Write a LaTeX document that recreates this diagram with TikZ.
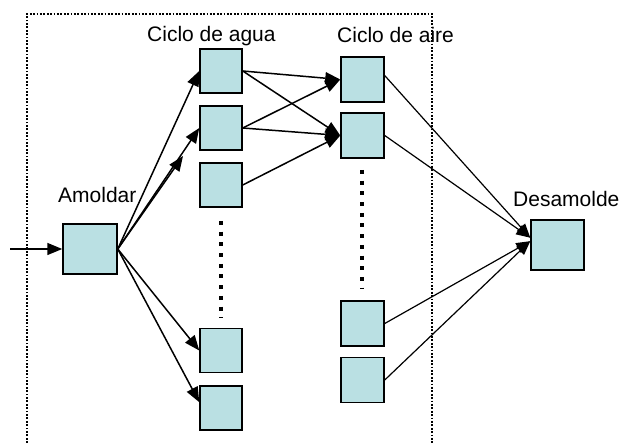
\documentclass[tikz,border=0pt]{standalone}
\usepackage{fontspec}
\setmainfont{Liberation Sans}
\usetikzlibrary{arrows.meta}
\definecolor{boxfill}{RGB}{186,224,227}
\tikzset{
  box/.style={draw=black, line width=1.5pt, fill=boxfill, rectangle, inner sep=0pt},
  wbox/.style={box, minimum width=42pt, minimum height=44pt},
  abox/.style={box, minimum width=43pt, minimum height=45pt},
  bigbox/.style={box, minimum width=54pt, minimum height=50pt},
  lbl/.style={font=\fontsize{21}{25}\selectfont, inner sep=0pt, anchor=base west},
  conn/.style={line width=1.5pt, -{Triangle[length=15pt,width=12pt]}},
  thin/.style={line width=1.2pt, -{Triangle[length=14pt,width=11pt]}},
  frame/.style={line width=2pt, dash pattern=on 1.8pt off 1.6pt},
  dots/.style={line width=4pt, dash pattern=on 4pt off 6.7pt}
}
\begin{document}
\begin{tikzpicture}[x=1pt,y=-1pt]
\useasboundingbox (0,0) rectangle (619,443);
% frame (open at bottom)
\draw[frame] (27,443) -- (27,14) -- (432,14) -- (432,443);
% labels
\node[lbl] (lagua) at (147,42) {Ciclo de agua};
\node[lbl] (laire) at (337,43) {Ciclo de aire};
\node[lbl] (lam) at (58,203) {Amoldar};
\node[lbl] (ldes) at (513,207) {Desamolde};
% boxes
\node[bigbox] (am) at (90,249) {};
\node[wbox] (w1) at (221,71) {};
\node[wbox] (w2) at (221,128) {};
\node[wbox] (w3) at (221,185) {};
\node[wbox] (w4) at (221,350.5) {};
\node[wbox] (w5) at (221,408) {};
\node[abox] (a1) at (362.5,79.5) {};
\node[abox] (a2) at (362.5,135.5) {};
\node[abox] (a3) at (362.5,323.5) {};
\node[abox] (a4) at (362.5,380) {};
\node[bigbox, minimum width=53pt] (d) at (557.5,245) {};
% ellipsis dots
\coordinate (wd1) at (221,221);
\coordinate (wd2) at (221,318);
\coordinate (ad1) at (362,170);
\coordinate (ad2) at (362,289);
\draw[dots] (wd1) -- (wd2);
\draw[dots] (ad1) -- (ad2);
% input
\coordinate (in) at (10,249);
\draw[conn] (in) -- (am.west);
% Amoldar to water
\coordinate (m) at (183,156);
\draw[conn] (am.east) -- (w1.west);
\draw[conn] (am.east) -- (w2.west);
\draw[conn] (am.east) -- (m);
\draw[conn] (am.east) -- (w4.west);
\draw[conn] (am.east) -- (w5.165);
% water to air
\draw[conn] (w1.east) -- (a1.west);
\draw[conn] (w1.east) -- (a2.west);
\draw[conn] (w2.east) -- (a1.west);
\draw[conn] (w2.east) -- (a2.west);
\draw[conn] (w3.east) -- (a2.west);
% air to desamolde
\draw[thin] (a1.10) -- (d.165);
\draw[thin] (a2.east) -- (d.165);
\draw[thin] (a3.east) -- (d.172);
\draw[thin] (a4.east) -- (d.172);
\end{tikzpicture}
\end{document}
